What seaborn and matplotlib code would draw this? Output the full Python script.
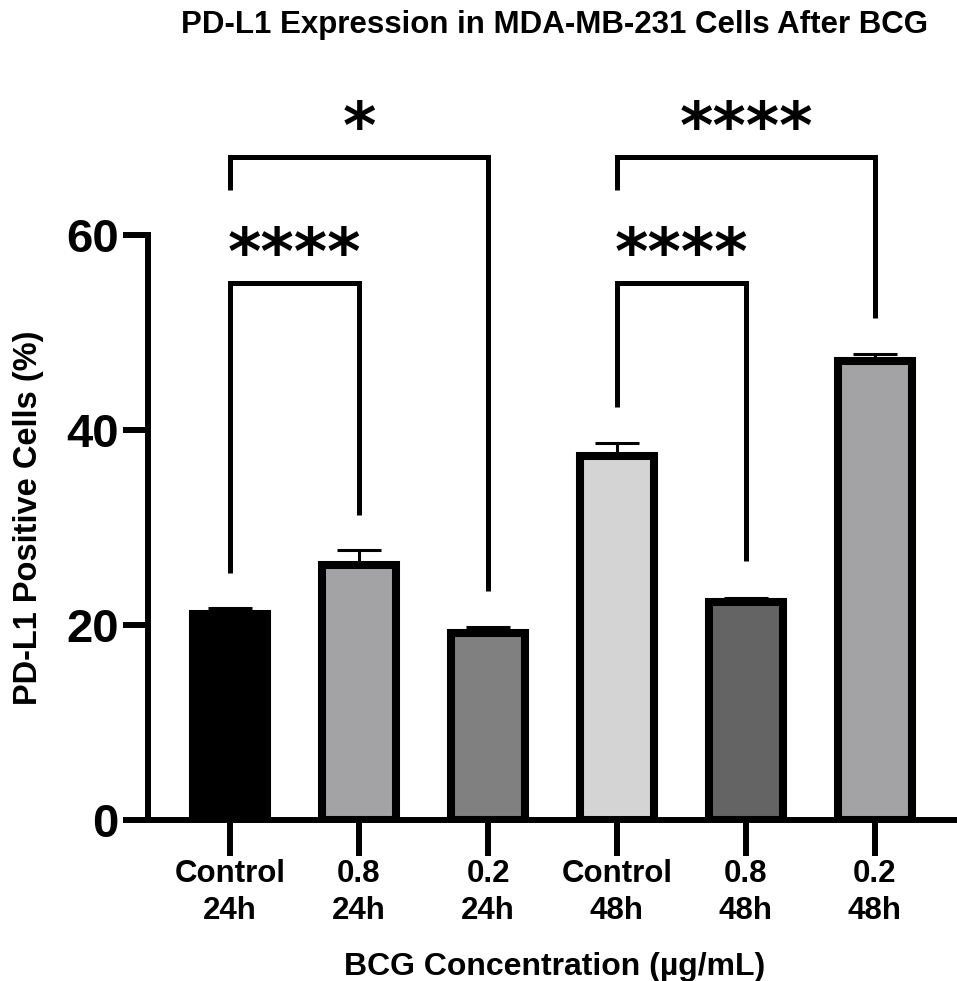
import numpy as np
import seaborn as sns
import matplotlib.pyplot as plt

# Data
groups = ["Control\n24h", "0.8\n24h", "0.2\n24h", "Control\n48h", "0.8\n48h", "0.2\n48h"]
pdl1_positive = [21.1, 26.2, 19.2, 37.3, 22.4, 47.1]
pdl1_sd = [0.6, 1.5, 0.6, 1.4, 0.4, 0.7]
bar_colors = ["#000000", "#a3a2a6", "#808080", "#d4d4d4", "#646464", "#a3a2a6"]

# Significance brackets: (left group, right group, label)
comparisons = [(0, 1, "****"), (0, 2, "*"), (3, 4, "****"), (3, 5, "****")]
bracket_top = [55.1, 68.0, 55.1, 68.0]
left_leg_end = [25.3, 64.6, 42.4, 64.6]
right_leg_end = [31.3, 23.5, 26.6, 51.5]

sns.set_style("ticks")
plt.rcParams["font.family"] = ["Liberation Sans", "DejaVu Sans"]
plt.rcParams["font.weight"] = "bold"
for key in ["text.color", "axes.labelcolor", "xtick.color", "ytick.color", "axes.edgecolor"]:
    plt.rcParams[key] = "black"

fig = plt.figure(figsize=(9.57, 9.81), dpi=100)
ax = fig.add_axes([148 / 957, 161 / 981, 809 / 957, 585 / 981])

sns.barplot(x=groups, y=pdl1_positive, hue=groups, palette=bar_colors,
            legend=False, width=0.58, edgecolor="black", linewidth=5.8,
            errorbar=None, ax=ax, zorder=2)

x_pos = np.arange(len(groups))
ax.errorbar(x_pos, pdl1_positive, yerr=[np.zeros(len(pdl1_sd)), pdl1_sd],
            fmt="none", ecolor="black", elinewidth=2.2, capsize=15.5,
            capthick=2.2, zorder=1)

# brackets with significance stars
for (i, j, label), top, lb, rb in zip(comparisons, bracket_top, left_leg_end, right_leg_end):
    ax.plot([i, i, j, j], [lb, top, top, rb], color="black", lw=3.6,
            solid_joinstyle="miter", solid_capstyle="butt", clip_on=False)
    ax.text((i + j) / 2, top + 0.9, label, ha="center", va="baseline",
            fontsize=46, fontweight="bold", family="DejaVu Sans", clip_on=False)

ax.set_xlim(-0.636, 5.636)
ax.set_ylim(0, 60)
ax.set_yticks([0, 20, 40, 60])
sns.despine(ax=ax)
for side in ["left", "bottom"]:
    ax.spines[side].set_linewidth(4.3)

ax.tick_params(axis="y", length=18, width=4.3, labelsize=34, pad=3)
ax.tick_params(axis="x", length=26, width=4.3, labelsize=22.5, pad=2)
for lbl in ax.get_xticklabels():
    lbl.set_linespacing(1.3)

ax.set_ylabel("PD-L1 Positive Cells (%)", fontsize=23.5, fontweight="bold")
ax.yaxis.set_label_coords(-0.128, 0.516)
ax.set_xlabel("BCG Concentration (µg/mL)", fontsize=23, fontweight="bold")
ax.xaxis.set_label_coords(0.503, -0.225)

fig.text(555 / 957, 1 - 25 / 981, "PD-L1 Expression in MDA-MB-231 Cells After BCG",
         ha="center", va="center", fontsize=22.5, fontweight="bold")

fig.savefig("out.png", dpi=100)
